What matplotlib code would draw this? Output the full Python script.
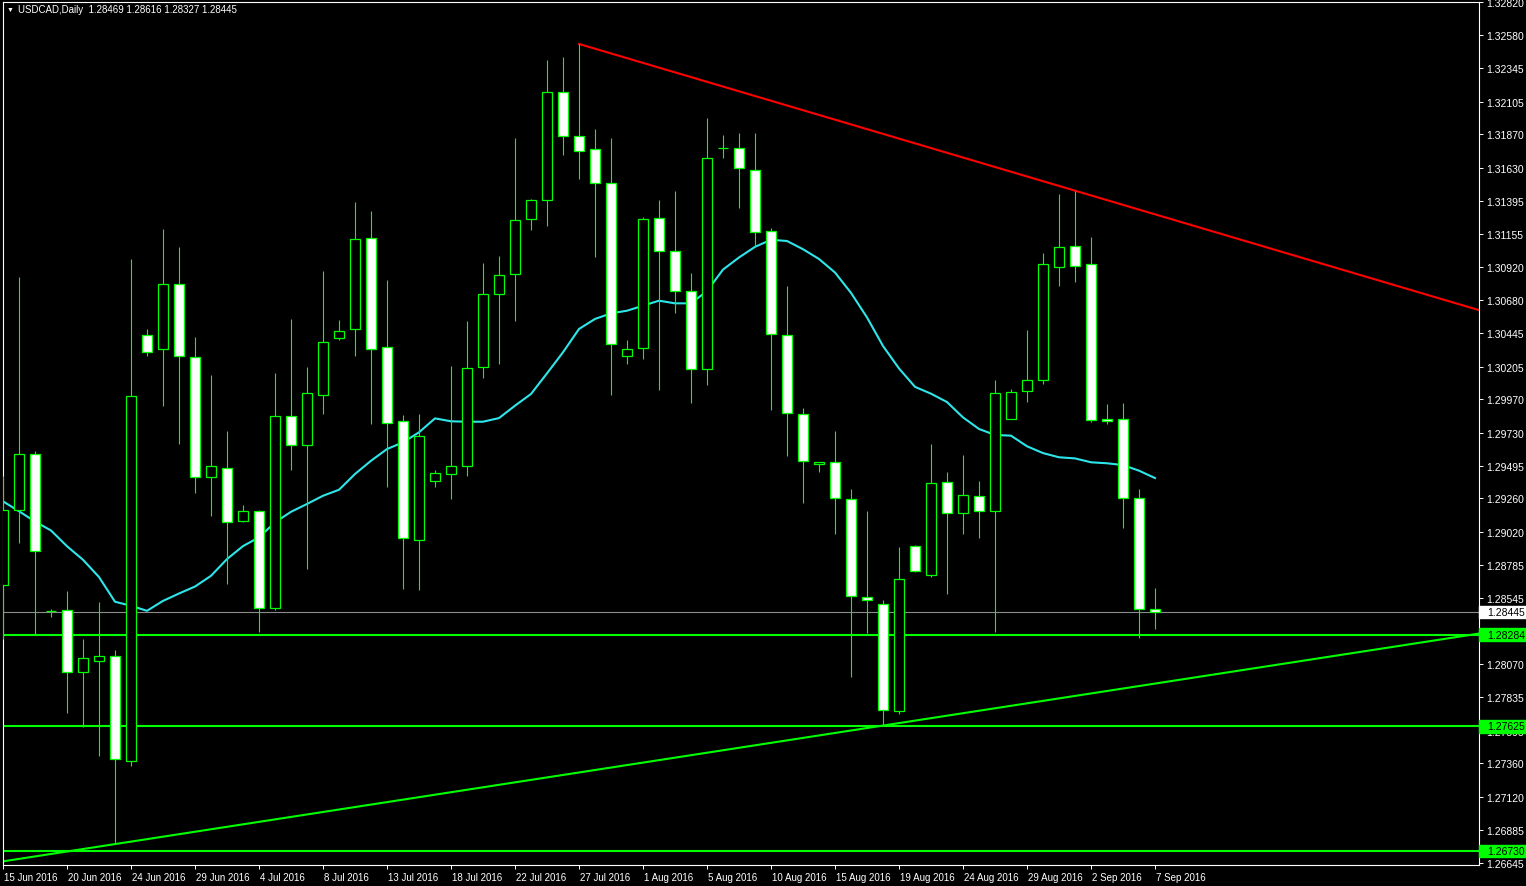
import numpy as np
import matplotlib
matplotlib.use('Agg')
import matplotlib.pyplot as plt
from matplotlib.patches import Rectangle
from matplotlib.transforms import blended_transform_factory, ScaledTranslation

plt.rcParams['font.family'] = ['Liberation Sans', 'DejaVu Sans']

# USDCAD daily candles, 15 Jun 2016 .. 7 Sep 2016 (Sunday bars included)
opens = [
    1.28639, 1.29180, 1.29581, 1.28452, 1.28459, 1.28017, 1.28097, 1.28127, 1.27379, 1.30435,
    1.30328, 1.30800, 1.30272, 1.29416, 1.29481, 1.29098, 1.29167, 1.28476, 1.29849, 1.29641,
    1.30004, 1.30412, 1.30477, 1.31125, 1.30344, 1.29813, 1.28964, 1.29387, 1.29437, 1.29494,
    1.30200, 1.30724, 1.30867, 1.31262, 1.31398, 1.32172, 1.31857, 1.31764, 1.31520, 1.30279,
    1.30336, 1.31269, 1.31032, 1.30745, 1.30186, 1.31772, 1.31776, 1.31612, 1.31176, 1.30435,
    1.29862, 1.29507, 1.29519, 1.29253, 1.28556, 1.28506, 1.27734, 1.28916, 1.28708, 1.29375,
    1.29153, 1.29275, 1.29167, 1.29827, 1.30028, 1.30111, 1.30922, 1.31068, 1.30939, 1.29827,
    1.29827, 1.29261, 1.28469]
highs = [
    1.29420, 1.30845, 1.29602, 1.28467, 1.28599, 1.28253, 1.28519, 1.28176, 1.30977, 1.30478,
    1.31190, 1.31063, 1.30414, 1.30148, 1.29741, 1.29213, 1.29177, 1.30159, 1.30547, 1.30202,
    1.30891, 1.30539, 1.31386, 1.31321, 1.30826, 1.29858, 1.29865, 1.29464, 1.30209, 1.30532,
    1.30948, 1.30998, 1.31845, 1.31407, 1.32402, 1.32423, 1.32519, 1.31907, 1.31845, 1.30396,
    1.31278, 1.31400, 1.31465, 1.30876, 1.31988, 1.31866, 1.31884, 1.31884, 1.31202, 1.30781,
    1.29911, 1.29521, 1.29745, 1.29329, 1.29168, 1.28530, 1.28910, 1.28926, 1.29651, 1.29449,
    1.29571, 1.29385, 1.30109, 1.30044, 1.30465, 1.31020, 1.31443, 1.31467, 1.31132, 1.29935,
    1.29944, 1.29327, 1.28616]
lows = [
    1.28251, 1.28941, 1.28282, 1.28409, 1.27720, 1.27619, 1.27415, 1.26781, 1.27344, 1.30284,
    1.29921, 1.29649, 1.29301, 1.29133, 1.28643, 1.29091, 1.28304, 1.28462, 1.29466, 1.28754,
    1.29865, 1.30396, 1.30281, 1.29793, 1.29344, 1.28610, 1.28605, 1.29344, 1.29256, 1.29423,
    1.30126, 1.30226, 1.30534, 1.31187, 1.31216, 1.31725, 1.31553, 1.30993, 1.30004, 1.30224,
    1.30260, 1.30039, 1.30592, 1.29946, 1.30075, 1.31701, 1.31345, 1.31070, 1.29891, 1.29566,
    1.29229, 1.29446, 1.29007, 1.27982, 1.28298, 1.27631, 1.27713, 1.28732, 1.28699, 1.28576,
    1.29007, 1.28978, 1.28304, 1.29827, 1.29953, 1.30083, 1.30785, 1.30814, 1.29806, 1.29796,
    1.29050, 1.28261, 1.28327]
closes = [
    1.29180, 1.29581, 1.28885, 1.28455, 1.28017, 1.28112, 1.28127, 1.27389, 1.29991, 1.30308,
    1.30800, 1.30278, 1.29416, 1.29490, 1.29094, 1.29167, 1.28476, 1.29849, 1.29641, 1.30014,
    1.30382, 1.30458, 1.31118, 1.30333, 1.29803, 1.28974, 1.29707, 1.29442, 1.29490, 1.30193,
    1.30724, 1.30860, 1.31254, 1.31398, 1.32172, 1.31857, 1.31749, 1.31520, 1.30365, 1.30329,
    1.31262, 1.31032, 1.30745, 1.30186, 1.31699, 1.31773, 1.31627, 1.31173, 1.30441, 1.29870,
    1.29528, 1.29521, 1.29261, 1.28559, 1.28530, 1.27742, 1.28685, 1.28738, 1.29367, 1.29153,
    1.29282, 1.29167, 1.30014, 1.30021, 1.30107, 1.30939, 1.31061, 1.30929, 1.29820, 1.29813,
    1.29261, 1.28464, 1.28445]

# moving average (cyan line)
ma = [
    1.29239, 1.29168, 1.29094, 1.29030, 1.28917, 1.28820, 1.28696, 1.28519, 1.28490, 1.28454,
    1.28525, 1.28578, 1.28628, 1.28705, 1.28825, 1.28918, 1.28981, 1.29088, 1.29164, 1.29220,
    1.29279, 1.29322, 1.29435, 1.29530, 1.29614, 1.29662, 1.29734, 1.29834, 1.29813, 1.29810,
    1.29810, 1.29836, 1.29925, 1.30009, 1.30157, 1.30308, 1.30475, 1.30547, 1.30587, 1.30606,
    1.30642, 1.30678, 1.30659, 1.30659, 1.30747, 1.30901, 1.30988, 1.31064, 1.31115, 1.31106,
    1.31047, 1.30977, 1.30880, 1.30734, 1.30558, 1.30353, 1.30192, 1.30060, 1.30011, 1.29951,
    1.29841, 1.29758, 1.29715, 1.29710, 1.29634, 1.29585, 1.29555, 1.29547, 1.29519, 1.29512,
    1.29499, 1.29459, 1.29406]

date_labels = ['15 Jun 2016', '20 Jun 2016', '24 Jun 2016', '29 Jun 2016', '4 Jul 2016',
               '8 Jul 2016', '13 Jul 2016', '18 Jul 2016', '22 Jul 2016', '27 Jul 2016',
               '1 Aug 2016', '5 Aug 2016', '10 Aug 2016', '15 Aug 2016', '19 Aug 2016',
               '24 Aug 2016', '29 Aug 2016', '2 Sep 2016', '7 Sep 2016']
price_ticks = [1.32820, 1.32580, 1.32345, 1.32105, 1.31870, 1.31630, 1.31395, 1.31155,
               1.30920, 1.30680, 1.30445, 1.30205, 1.29970, 1.29730, 1.29495, 1.29260,
               1.29020, 1.28785, 1.28545, 1.28310, 1.28070, 1.27835, 1.27595, 1.27360,
               1.27120, 1.26885, 1.26645]

# drawn objects
support_levels = [1.28284, 1.27625, 1.26730]
red_trend = [(36, 1.32519), (67, 1.31467)]
green_trend = [(7, 1.26781), (55, 1.27631)]

GREEN = '#00ff00'

fig = plt.figure(figsize=(15.26, 8.87), dpi=100, facecolor='black')
ax = fig.add_axes([3 / 1526, 21 / 887, 1476 / 1526, 863 / 887])
ax.set_facecolor('black')

xmax = 92.25
ax.set_xlim(0, xmax)
ax.set_ylim(1.26631, 1.32820)

x = np.arange(len(opens))
o = np.array(opens)
h = np.array(highs)
l = np.array(lows)
c = np.array(closes)
up = c >= o

# lines behind candles
for lev in support_levels:
    ax.axhline(lev, color=GREEN, lw=1.5, zorder=1)
ax.axhline(closes[-1], color='#8c8c8c', lw=0.8, zorder=1)
ax.axline(green_trend[0], green_trend[1], color=GREEN, lw=1.5, zorder=1)
(x0, y0), (x1, y1) = red_trend
slope = (y1 - y0) / (x1 - x0)
ax.plot([x0, xmax], [y0, y0 + slope * (xmax - x0)], color='#ff0000', lw=1.5, zorder=1)
ax.plot(x, ma, color='#2ee6ea', lw=1.5, zorder=2)

# candles
ax.vlines(x, l, h, color=GREEN, lw=0.8, zorder=3)
ax.bar(x, np.maximum(np.abs(c - o), 1e-6), bottom=np.minimum(o, c), width=0.66,
       color=np.where(up, 'black', 'white'), edgecolor=GREEN, linewidth=0.9, zorder=4)

# axes style
for sp in ax.spines.values():
    sp.set_color('white')
    sp.set_linewidth(0.8)

ax.set_xticks(np.arange(0, len(opens), 4))
ax.set_xticklabels(date_labels)
ax.tick_params(axis='x', colors='white', length=3, width=0.7, pad=2, labelsize=7)
shift = ScaledTranslation(1 / 72, 0, fig.dpi_scale_trans)
for t in ax.get_xticklabels():
    t.set_horizontalalignment('left')
    t.set_transform(t.get_transform() + shift)

ax.yaxis.tick_right()
ax.set_yticks(price_ticks)
ax.set_yticklabels([f'{v:.5f}' for v in price_ticks])
ax.tick_params(axis='y', colors='white', length=3, width=0.7, pad=2.5, labelsize=7.5)

# price labels on the right scale
blend = blended_transform_factory(ax.transAxes, ax.transData)
box_w = 47 / 1476
box_h = 0.00088
tags = [(lev, GREEN) for lev in support_levels] + [(closes[-1], 'white')]
for lev, col in tags:
    ax.add_patch(Rectangle((1.0, lev - box_h / 2), box_w, box_h, transform=blend,
                           facecolor=col, edgecolor=col, clip_on=False, zorder=6))
    ax.text(1.0 + 8 / 1476, lev, f'{lev:.5f}', transform=blend, color='black',
            fontsize=7.5, ha='left', va='center', clip_on=False, zorder=7)

# header
fig.text(7 / 1526, 1 - 10 / 887, '\u25bc', color='white', fontsize=5, va='center')
fig.text(18 / 1526, 1 - 10 / 887,
         f'USDCAD,Daily  {opens[-1]:.5f} {highs[-1]:.5f} {lows[-1]:.5f} {closes[-1]:.5f}',
         color='white', fontsize=7, va='center')

fig.savefig('out.png', dpi=100, facecolor='black')
